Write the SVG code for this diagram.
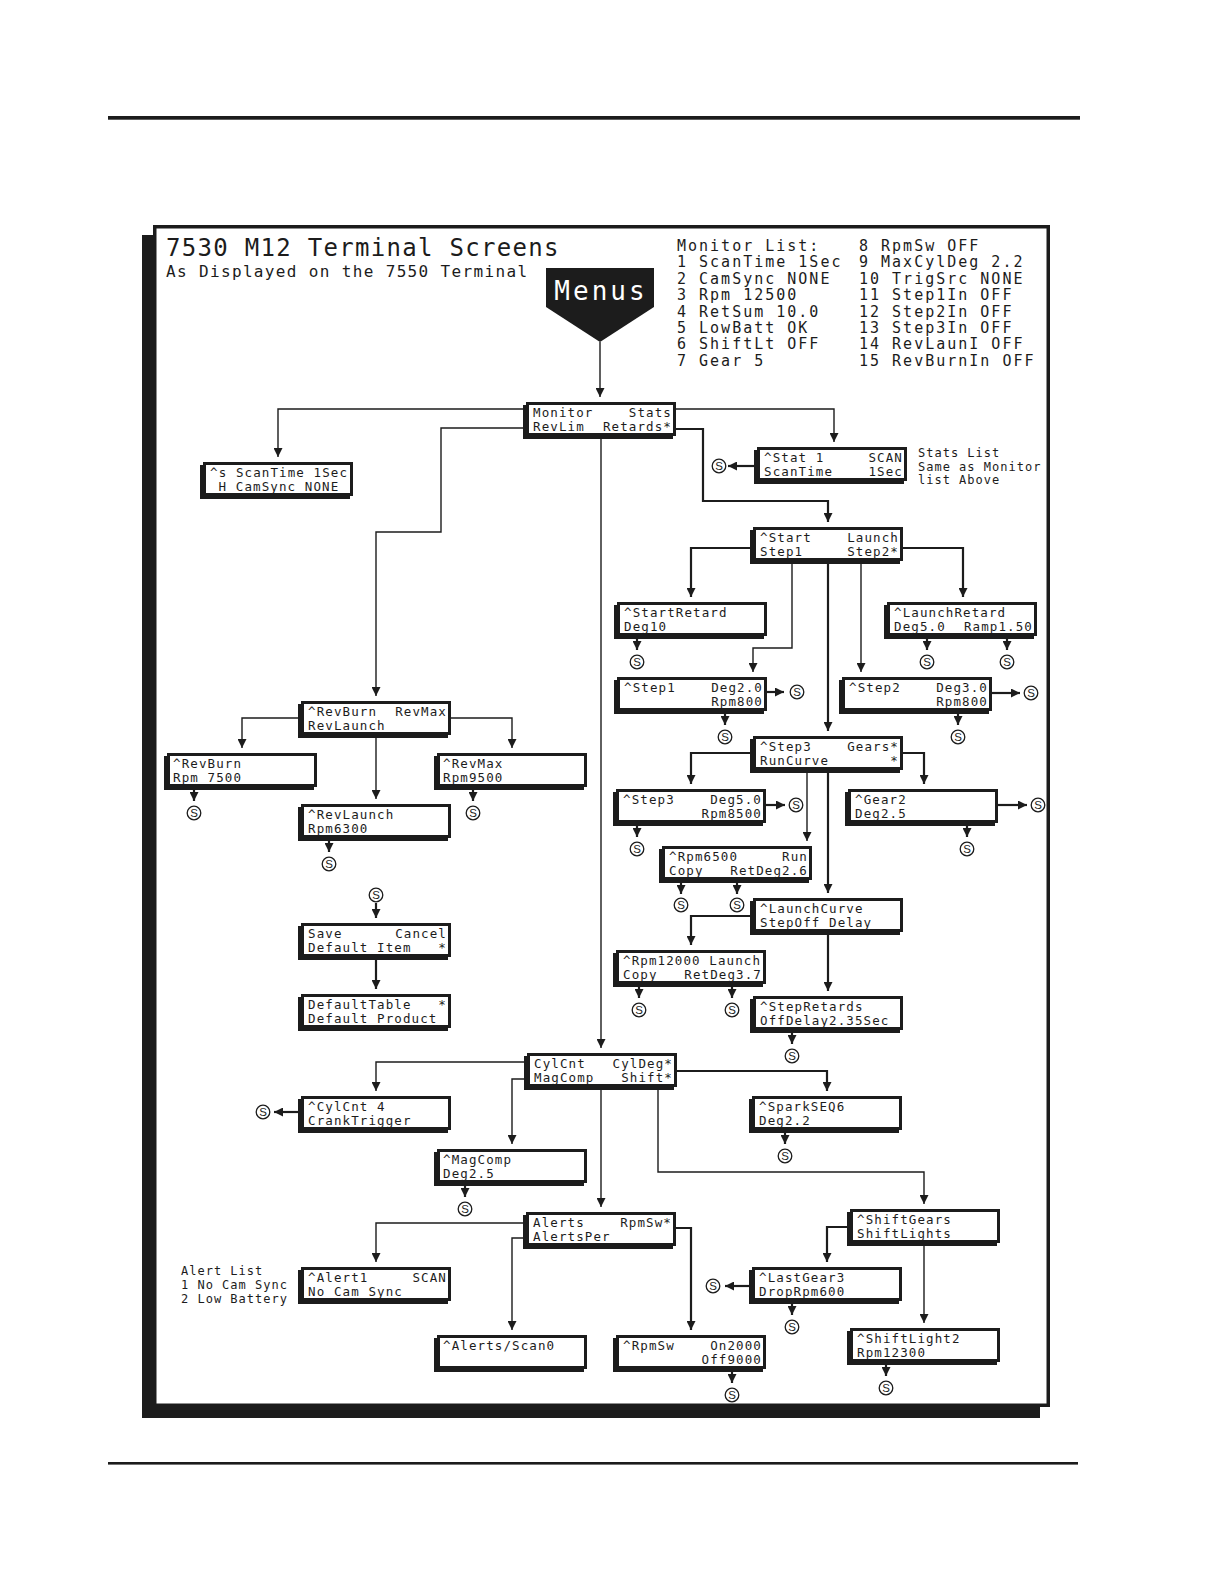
<svg xmlns="http://www.w3.org/2000/svg" xmlns:xlink="http://www.w3.org/1999/xlink" width="1224" height="1584" viewBox="0 0 1224 1584">
<style>
.sh{fill:#1c1c1c}
.bx{fill:#fff;stroke:#1c1c1c;stroke-width:3}
.t{font-family:"DejaVu Sans Mono",monospace;font-size:12.5px;letter-spacing:1.1px;fill:#1c1c1c}
.r{text-anchor:end}
.ml{font-family:"DejaVu Sans Mono",monospace;font-size:15px;letter-spacing:2px;fill:#1c1c1c}
.nt{font-family:"DejaVu Sans Mono",monospace;font-size:12px;letter-spacing:1px;fill:#1c1c1c}
.thin{fill:none;stroke:#1c1c1c;stroke-width:1.4;marker-end:url(#ah)}
.thick{fill:none;stroke:#1c1c1c;stroke-width:2.2;marker-end:url(#ah)}
.sc{fill:#fff;stroke:#1c1c1c;stroke-width:1.3}
.st{font-family:"Liberation Sans",sans-serif;font-size:11.5px;text-anchor:middle;fill:#1c1c1c}
</style>
<defs>
<marker id="ah" viewBox="0 0 10 10" refX="10" refY="5" markerWidth="9" markerHeight="9" markerUnits="userSpaceOnUse" orient="auto">
<path d="M0,0 L10,5 L0,10 z" fill="#1c1c1c"/>
</marker>
<symbol id="S" overflow="visible">
<circle class="sc" cx="0" cy="0" r="6.8"/>
<text class="st" x="0" y="4.1">S</text>
</symbol>
</defs>
<rect width="1224" height="1584" fill="#fff"/>
<!-- page rules -->
<rect x="108" y="116" width="972" height="3.7" fill="#1c1c1c"/>
<rect x="108" y="1462" width="970" height="2.6" fill="#1c1c1c"/>
<!-- frame -->
<rect x="142" y="235" width="898" height="1183" fill="#1c1c1c"/>
<rect x="154.75" y="226.75" width="893.5" height="1178.5" fill="#fff" stroke="#1c1c1c" stroke-width="3.5"/>
<!-- titles -->
<text x="166" y="256" font-family="DejaVu Sans Mono,monospace" font-size="24" letter-spacing="1.3" fill="#1c1c1c">7530 M12 Terminal Screens</text>
<text x="166" y="277" font-family="DejaVu Sans Mono,monospace" font-size="16" letter-spacing="1.35" fill="#1c1c1c">As Displayed on the 7550 Terminal</text>
<g id="monitor-list">
<text class="ml" x="677" y="251">Monitor List:</text>
<text class="ml" x="677" y="267.4">1 ScanTime 1Sec</text>
<text class="ml" x="677" y="283.8">2 CamSync NONE</text>
<text class="ml" x="677" y="300.2">3 Rpm 12500</text>
<text class="ml" x="677" y="316.6">4 RetSum 10.0</text>
<text class="ml" x="677" y="333">5 LowBatt OK</text>
<text class="ml" x="677" y="349.4">6 ShiftLt OFF</text>
<text class="ml" x="677" y="365.8">7 Gear 5</text>
<text class="ml" x="859" y="251">8 RpmSw OFF</text>
<text class="ml" x="859" y="267.4">9 MaxCylDeg 2.2</text>
<text class="ml" x="859" y="283.8">10 TrigSrc NONE</text>
<text class="ml" x="859" y="300.2">11 Step1In OFF</text>
<text class="ml" x="859" y="316.6">12 Step2In OFF</text>
<text class="ml" x="859" y="333">13 Step3In OFF</text>
<text class="ml" x="859" y="349.4">14 RevLaunI OFF</text>
<text class="ml" x="859" y="365.8">15 RevBurnIn OFF</text>
</g>
<g id="stats-note">
<text class="nt" x="918" y="457">Stats List</text>
<text class="nt" x="918" y="471">Same as Monitor</text>
<text class="nt" x="918" y="484">list Above</text>
</g>
<g id="alert-note">
<text class="nt" x="181" y="1275">Alert List</text>
<text class="nt" x="181" y="1289">1 No Cam Sync</text>
<text class="nt" x="181" y="1303">2 Low Battery</text>
</g>
<g id="menus">
<polygon points="546,268 654,268 654,307 600,342 546,307" fill="#1c1c1c"/>
<text x="601" y="300" font-family="DejaVu Sans Mono,monospace" font-size="26" letter-spacing="3" text-anchor="middle" fill="#fff">Menus</text>
</g>

<g id="connectors">
<path class="thin" d="M600,342 V397"/>
<path class="thin" d="M526,409 H278 V457"/>
<path class="thin" d="M526,428 H441 V532 H376 V696"/>
<path class="thin" d="M676,409 H834 V442"/>
<path class="thick" d="M676,429 H703 V501 H828 V522"/>
<path class="thin" d="M601,436 V1048"/>
<path class="thick" d="M757,466 H728"/>
<path class="thick" d="M753,548 H691 V597"/>
<path class="thin" d="M792,560 V648 H753 V672"/>
<path class="thick" d="M828,560 V731"/>
<path class="thin" d="M861,560 V672"/>
<path class="thick" d="M903,548 H963 V597"/>
<path class="thick" d="M637,636 V650"/>
<path class="thick" d="M927,636 V650"/>
<path class="thick" d="M1007,636 V650"/>
<path class="thick" d="M767,692 H784"/>
<path class="thick" d="M725,711 V725"/>
<path class="thick" d="M992,693 H1020"/>
<path class="thick" d="M958,711 V725"/>
<path class="thick" d="M753,753 H691 V784"/>
<path class="thin" d="M807,770 V841"/>
<path class="thick" d="M828,770 V893"/>
<path class="thick" d="M903,753 H924 V784"/>
<path class="thick" d="M766,805 H785"/>
<path class="thick" d="M637,823 V837"/>
<path class="thick" d="M998,805 H1027"/>
<path class="thick" d="M967,823 V837"/>
<path class="thick" d="M681,880 V894"/>
<path class="thick" d="M737,880 V894"/>
<path class="thick" d="M753,916 H691 V945"/>
<path class="thick" d="M828,932 V991"/>
<path class="thick" d="M639,984 V998"/>
<path class="thick" d="M732,984 V998"/>
<path class="thick" d="M792,1030 V1044"/>
<path class="thin" d="M301,718 H242 V748"/>
<path class="thin" d="M376,735 V799"/>
<path class="thin" d="M451,718 H512 V748"/>
<path class="thick" d="M194,787 V801"/>
<path class="thick" d="M473,787 V801"/>
<path class="thick" d="M329,838 V852"/>
<path class="thick" d="M376,903 V918"/>
<path class="thick" d="M376,957 V989"/>
<path class="thin" d="M527,1062 H376 V1091"/>
<path class="thick" d="M301,1112 H274"/>
<path class="thin" d="M527,1079 H512 V1144"/>
<path class="thick" d="M465,1183 V1197"/>
<path class="thin" d="M601,1087 V1207"/>
<path class="thick" d="M677,1071 H827 V1091"/>
<path class="thick" d="M785,1130 V1144"/>
<path class="thin" d="M658,1087 V1172 H924 V1204"/>
<path class="thin" d="M526,1223 H376 V1262"/>
<path class="thin" d="M526,1238 H512 V1330"/>
<path class="thick" d="M676,1228 H691 V1330"/>
<path class="thick" d="M732,1369 V1383"/>
<path class="thick" d="M850,1227 H827 V1262"/>
<path class="thick" d="M752,1286 H725"/>
<path class="thick" d="M792,1301 V1315"/>
<path class="thin" d="M924,1243 V1323"/>
<path class="thick" d="M886,1362 V1376"/>
</g>

<g id="save-markers">
<use xlink:href="#S" x="719" y="466"/>
<use xlink:href="#S" x="637" y="662"/>
<use xlink:href="#S" x="927" y="662"/>
<use xlink:href="#S" x="1007" y="662"/>
<use xlink:href="#S" x="797" y="692"/>
<use xlink:href="#S" x="725" y="737"/>
<use xlink:href="#S" x="1031" y="693"/>
<use xlink:href="#S" x="958" y="737"/>
<use xlink:href="#S" x="796" y="805"/>
<use xlink:href="#S" x="637" y="849"/>
<use xlink:href="#S" x="1038" y="805"/>
<use xlink:href="#S" x="967" y="849"/>
<use xlink:href="#S" x="681" y="905"/>
<use xlink:href="#S" x="737" y="905"/>
<use xlink:href="#S" x="639" y="1010"/>
<use xlink:href="#S" x="732" y="1010"/>
<use xlink:href="#S" x="792" y="1056"/>
<use xlink:href="#S" x="194" y="813"/>
<use xlink:href="#S" x="473" y="813"/>
<use xlink:href="#S" x="329" y="864"/>
<use xlink:href="#S" x="376" y="895"/>
<use xlink:href="#S" x="263" y="1112"/>
<use xlink:href="#S" x="465" y="1209"/>
<use xlink:href="#S" x="785" y="1156"/>
<use xlink:href="#S" x="732" y="1395"/>
<use xlink:href="#S" x="713" y="1286"/>
<use xlink:href="#S" x="792" y="1327"/>
<use xlink:href="#S" x="886" y="1388"/>
</g>

<g id="n-scantime"><rect class="sh" x="200" y="465" width="150" height="34"/><rect class="bx" x="204.5" y="463.5" width="147" height="31"/>
<text class="t" x="210" y="476.5">^s ScanTime 1Sec</text><text class="t" x="218.6" y="491">H CamSync NONE</text></g>
<g id="n-monitor"><rect class="sh" x="523" y="405" width="150" height="34"/><rect class="bx" x="527.5" y="403.5" width="147" height="31"/>
<text class="t" x="533" y="416.5">Monitor</text><text class="t r" x="672" y="416.5">Stats</text><text class="t" x="533" y="431">RevLim</text><text class="t r" x="672" y="431">Retards*</text></g>
<g id="n-stat1"><rect class="sh" x="754" y="450" width="150" height="34"/><rect class="bx" x="758.5" y="448.5" width="147" height="31"/>
<text class="t" x="764" y="461.5">^Stat 1</text><text class="t r" x="903" y="461.5">SCAN</text><text class="t" x="764" y="476">ScanTime</text><text class="t r" x="903" y="476">1Sec</text></g>
<g id="n-start"><rect class="sh" x="750" y="530" width="150" height="34"/><rect class="bx" x="754.5" y="528.5" width="147" height="31"/>
<text class="t" x="760" y="541.5">^Start</text><text class="t r" x="899" y="541.5">Launch</text><text class="t" x="760" y="556">Step1</text><text class="t r" x="899" y="556">Step2*</text></g>
<g id="n-startretard"><rect class="sh" x="614" y="605" width="150" height="34"/><rect class="bx" x="618.5" y="603.5" width="147" height="31"/>
<text class="t" x="624" y="616.5">^StartRetard</text><text class="t" x="624" y="631">Deg10</text></g>
<g id="n-launchretard"><rect class="sh" x="884" y="605" width="150" height="34"/><rect class="bx" x="888.5" y="603.5" width="147" height="31"/>
<text class="t" x="894" y="616.5">^LaunchRetard</text><text class="t" x="894" y="631">Deg5.0</text><text class="t r" x="1033" y="631">Ramp1.50</text></g>
<g id="n-step1"><rect class="sh" x="614" y="680" width="150" height="34"/><rect class="bx" x="618.5" y="678.5" width="147" height="31"/>
<text class="t" x="624" y="691.5">^Step1</text><text class="t r" x="763" y="691.5">Deg2.0</text><text class="t r" x="763" y="706">Rpm800</text></g>
<g id="n-step2"><rect class="sh" x="839" y="680" width="150" height="34"/><rect class="bx" x="843.5" y="678.5" width="147" height="31"/>
<text class="t" x="849" y="691.5">^Step2</text><text class="t r" x="988" y="691.5">Deg3.0</text><text class="t r" x="988" y="706">Rpm800</text></g>
<g id="n-step3"><rect class="sh" x="750" y="739" width="150" height="34"/><rect class="bx" x="754.5" y="737.5" width="147" height="31"/>
<text class="t" x="760" y="750.5">^Step3</text><text class="t r" x="899" y="750.5">Gears*</text><text class="t" x="760" y="765">RunCurve</text><text class="t r" x="899" y="765">*</text></g>
<g id="n-step3deg"><rect class="sh" x="613" y="792" width="150" height="34"/><rect class="bx" x="617.5" y="790.5" width="147" height="31"/>
<text class="t" x="623" y="803.5">^Step3</text><text class="t r" x="762" y="803.5">Deg5.0</text><text class="t r" x="762" y="818">Rpm8500</text></g>
<g id="n-gear2"><rect class="sh" x="845" y="792" width="150" height="34"/><rect class="bx" x="849.5" y="790.5" width="147" height="31"/>
<text class="t" x="855" y="803.5">^Gear2</text><text class="t" x="855" y="818">Deg2.5</text></g>
<g id="n-rpm6500"><rect class="sh" x="659" y="849" width="150" height="34"/><rect class="bx" x="663.5" y="847.5" width="147" height="31"/>
<text class="t" x="669" y="860.5">^Rpm6500</text><text class="t r" x="808" y="860.5">Run</text><text class="t" x="669" y="875">Copy</text><text class="t r" x="808" y="875">RetDeg2.6</text></g>
<g id="n-launchcurve"><rect class="sh" x="750" y="901" width="150" height="34"/><rect class="bx" x="754.5" y="899.5" width="147" height="31"/>
<text class="t" x="760" y="912.5">^LaunchCurve</text><text class="t" x="760" y="927">StepOff Delay</text></g>
<g id="n-rpm12000"><rect class="sh" x="613" y="953" width="150" height="34"/><rect class="bx" x="617.5" y="951.5" width="147" height="31"/>
<text class="t" x="623" y="964.5">^Rpm12000 Launch</text><text class="t" x="623" y="979">Copy</text><text class="t r" x="762" y="979">RetDeg3.7</text></g>
<g id="n-stepretards"><rect class="sh" x="750" y="999" width="150" height="34"/><rect class="bx" x="754.5" y="997.5" width="147" height="31"/>
<text class="t" x="760" y="1010.5">^StepRetards</text><text class="t" x="760" y="1025">OffDelay2.35Sec</text></g>
<g id="n-revburnmax"><rect class="sh" x="298" y="704" width="150" height="34"/><rect class="bx" x="302.5" y="702.5" width="147" height="31"/>
<text class="t" x="308" y="715.5">^RevBurn</text><text class="t r" x="447" y="715.5">RevMax</text><text class="t" x="308" y="730">RevLaunch</text></g>
<g id="n-revburn"><rect class="sh" x="164" y="756" width="150" height="34"/><rect class="bx" x="168.5" y="754.5" width="147" height="31"/>
<text class="t" x="173" y="767.5">^RevBurn</text><text class="t" x="173" y="782">Rpm 7500</text></g>
<g id="n-revmax"><rect class="sh" x="434" y="756" width="150" height="34"/><rect class="bx" x="438.5" y="754.5" width="147" height="31"/>
<text class="t" x="443" y="767.5">^RevMax</text><text class="t" x="443" y="782">Rpm9500</text></g>
<g id="n-revlaunch"><rect class="sh" x="298" y="807" width="150" height="34"/><rect class="bx" x="302.5" y="805.5" width="147" height="31"/>
<text class="t" x="308" y="818.5">^RevLaunch</text><text class="t" x="308" y="833">Rpm6300</text></g>
<g id="n-save"><rect class="sh" x="298" y="926" width="150" height="34"/><rect class="bx" x="302.5" y="924.5" width="147" height="31"/>
<text class="t" x="308" y="937.5">Save</text><text class="t r" x="447" y="937.5">Cancel</text><text class="t" x="308" y="952">Default Item</text><text class="t r" x="447" y="952">*</text></g>
<g id="n-defaulttable"><rect class="sh" x="298" y="997" width="150" height="34"/><rect class="bx" x="302.5" y="995.5" width="147" height="31"/>
<text class="t" x="308" y="1008.5">DefaultTable</text><text class="t r" x="447" y="1008.5">*</text><text class="t" x="308" y="1023">Default Product</text></g>
<g id="n-cylcnt"><rect class="sh" x="524" y="1056" width="150" height="34"/><rect class="bx" x="528.5" y="1054.5" width="147" height="31"/>
<text class="t" x="534" y="1067.5">CylCnt</text><text class="t r" x="673" y="1067.5">CylDeg*</text><text class="t" x="534" y="1082">MagComp</text><text class="t r" x="673" y="1082">Shift*</text></g>
<g id="n-cylcnt4"><rect class="sh" x="298" y="1099" width="150" height="34"/><rect class="bx" x="302.5" y="1097.5" width="147" height="31"/>
<text class="t" x="308" y="1110.5">^CylCnt 4</text><text class="t" x="308" y="1125">CrankTrigger</text></g>
<g id="n-magcomp"><rect class="sh" x="434" y="1152" width="150" height="34"/><rect class="bx" x="438.5" y="1150.5" width="147" height="31"/>
<text class="t" x="443" y="1163.5">^MagComp</text><text class="t" x="443" y="1178">Deg2.5</text></g>
<g id="n-alerts"><rect class="sh" x="523" y="1215" width="150" height="34"/><rect class="bx" x="527.5" y="1213.5" width="147" height="31"/>
<text class="t" x="533" y="1226.5">Alerts</text><text class="t r" x="672" y="1226.5">RpmSw*</text><text class="t" x="533" y="1241">AlertsPer</text></g>
<g id="n-alert1"><rect class="sh" x="298" y="1270" width="150" height="34"/><rect class="bx" x="302.5" y="1268.5" width="147" height="31"/>
<text class="t" x="308" y="1281.5">^Alert1</text><text class="t r" x="447" y="1281.5">SCAN</text><text class="t" x="308" y="1296">No Cam Sync</text></g>
<g id="n-alertsscan"><rect class="sh" x="434" y="1338" width="150" height="34"/><rect class="bx" x="438.5" y="1336.5" width="147" height="31"/>
<text class="t" x="443" y="1349.5">^Alerts/Scan0</text></g>
<g id="n-rpmsw"><rect class="sh" x="613" y="1338" width="150" height="34"/><rect class="bx" x="617.5" y="1336.5" width="147" height="31"/>
<text class="t" x="623" y="1349.5">^RpmSw</text><text class="t r" x="762" y="1349.5">On2000</text><text class="t r" x="762" y="1364">Off9000</text></g>
<g id="n-sparkseq"><rect class="sh" x="749" y="1099" width="150" height="34"/><rect class="bx" x="753.5" y="1097.5" width="147" height="31"/>
<text class="t" x="759" y="1110.5">^SparkSEQ6</text><text class="t" x="759" y="1125">Deg2.2</text></g>
<g id="n-shiftgears"><rect class="sh" x="847" y="1212" width="150" height="34"/><rect class="bx" x="851.5" y="1210.5" width="147" height="31"/>
<text class="t" x="857" y="1223.5">^ShiftGears</text><text class="t" x="857" y="1238">ShiftLights</text></g>
<g id="n-lastgear"><rect class="sh" x="749" y="1270" width="150" height="34"/><rect class="bx" x="753.5" y="1268.5" width="147" height="31"/>
<text class="t" x="759" y="1281.5">^LastGear3</text><text class="t" x="759" y="1296">DropRpm600</text></g>
<g id="n-shiftlight"><rect class="sh" x="847" y="1331" width="150" height="34"/><rect class="bx" x="851.5" y="1329.5" width="147" height="31"/>
<text class="t" x="857" y="1342.5">^ShiftLight2</text><text class="t" x="857" y="1357">Rpm12300</text></g>
</svg>
